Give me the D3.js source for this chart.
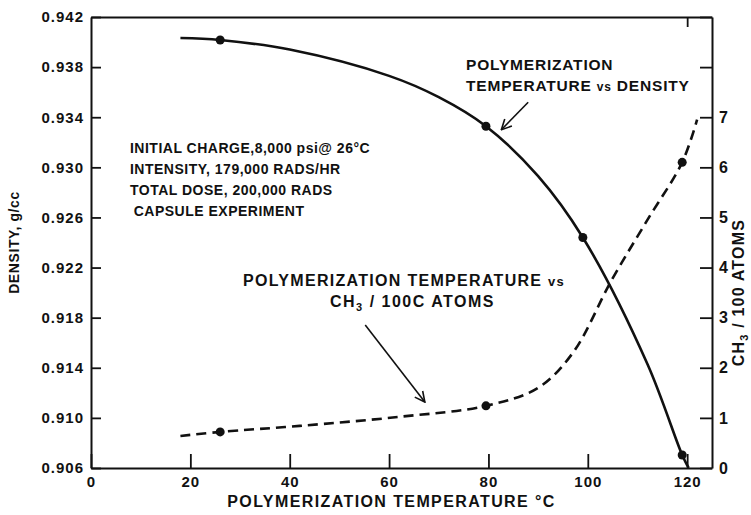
<!DOCTYPE html>
<html>
<head>
<meta charset="utf-8">
<script src="https://cdn.jsdelivr.net/npm/d3@7"></script>
<style>
  html, body { margin: 0; padding: 0; background: #fff; }
  svg { display: block; }
  text { font-family: "Liberation Sans", Arial, sans-serif; font-weight: bold; fill: #111; }
</style>
</head>
<body>
<svg id="chart" width="751" height="515"></svg>
<script>
// Measured points: polymerization temperature (°C) vs density (g/cc)
const densityTemps = [26, 79.5, 99, 119];
const densityValues = [0.94016, 0.93328, 0.9244, 0.90704];
// Smooth fitted density curve
const densityCurveTemps = [18, 26, 40, 60, 70, 79.5, 90, 99, 112, 119, 120.3];
const densityCurveValues = [0.94032, 0.94016, 0.9394, 0.9373, 0.9356, 0.93328, 0.9293, 0.9244, 0.9143, 0.90704, 0.906];

// Measured points: polymerization temperature (°C) vs CH3 per 100 C atoms
const methylTemps = [26, 79.5, 119];
const methylValues = [0.72, 1.24, 6.1];
// Smooth fitted CH3 curve
const methylCurveTemps = [18, 26, 42, 62, 79.5, 90, 97, 104.8, 112, 119, 122];
const methylCurveValues = [0.64, 0.72, 0.84, 1.02, 1.24, 1.6, 2.3, 3.75, 4.95, 6.1, 6.95];

// Axis ticks
const xTicks = [0, 20, 40, 60, 80, 100, 120];
const densityTicks = [0.906, 0.910, 0.914, 0.918, 0.922, 0.926, 0.930, 0.934, 0.938, 0.942];
const methylTicks = [0, 1, 2, 3, 4, 5, 6, 7, 8, 9];
const methylTickLabels = ["0", "1", "2", "3", "4", "5", "6", "7", "", ""];

const svg = d3.select("#chart");
const plotLeft = 91, plotRight = 712, plotTop = 17, plotBottom = 468;

const x = d3.scaleLinear().domain([0, 125]).range([plotLeft, plotRight]);
const yL = d3.scaleLinear().domain([0.906, 0.942]).range([plotBottom, plotTop]);
const yR = d3.scaleLinear().domain([0, 9]).range([plotBottom, plotTop]);

const axisStyle = g => {
  g.selectAll("path.domain").attr("stroke", "#111").attr("stroke-width", 2);
  g.selectAll(".tick line").attr("stroke", "#111").attr("stroke-width", 1.8);
  g.selectAll(".tick text").attr("fill", "#111").style("font-size", "15px")
    .style("font-family", "'Liberation Sans', Arial, sans-serif").style("font-weight", "bold")
    .style("letter-spacing", "1px");
};

// Bottom axis
svg.append("g").attr("transform", `translate(0,${plotBottom})`)
  .call(d3.axisBottom(x).tickValues(xTicks).tickSizeInner(-14).tickSizeOuter(0).tickPadding(8).tickFormat(d3.format("d")))
  .call(axisStyle);

// Left axis (density)
svg.append("g").attr("transform", `translate(${plotLeft},0)`)
  .call(d3.axisLeft(yL).tickValues(densityTicks).tickSizeInner(-10).tickSizeOuter(0).tickPadding(7).tickFormat(d3.format(".3f")))
  .call(axisStyle);

// Right axis (CH3 / 100 atoms)
svg.append("g").attr("transform", `translate(${plotRight},0)`)
  .call(d3.axisRight(yR).tickValues(methylTicks).tickSizeInner(-12).tickSizeOuter(0).tickPadding(7)
    .tickFormat((d, i) => methylTickLabels[i]))
  .call(axisStyle)
  .call(g => g.selectAll(".tick text").style("font-size", "16px"));

// Top frame
svg.append("g").attr("transform", `translate(0,${plotTop})`)
  .call(d3.axisTop(x).tickValues([120]).tickSizeInner(-10).tickSizeOuter(0).tickFormat(""))
  .call(axisStyle);

// Density curve (solid)
const densityLine = d3.line().x(d => x(d[0])).y(d => yL(d[1])).curve(d3.curveCatmullRom.alpha(0.5));
svg.append("path")
  .datum(densityCurveTemps.map((t, i) => [t, densityCurveValues[i]]))
  .attr("d", densityLine).attr("fill", "none").attr("stroke", "#111").attr("stroke-width", 2.6);

// CH3 curve (dashed)
const methylLine = d3.line().x(d => x(d[0])).y(d => yR(d[1])).curve(d3.curveCatmullRom.alpha(0.5));
svg.append("path")
  .datum(methylCurveTemps.map((t, i) => [t, methylCurveValues[i]]))
  .attr("d", methylLine).attr("fill", "none").attr("stroke", "#111").attr("stroke-width", 2.6)
  .attr("stroke-dasharray", "10,6");

// Data points
svg.append("g").selectAll("circle").data(densityTemps).join("circle")
  .attr("cx", d => x(d)).attr("cy", (d, i) => yL(densityValues[i])).attr("r", 4.5).attr("fill", "#111");
svg.append("g").selectAll("circle").data(methylTemps).join("circle")
  .attr("cx", d => x(d)).attr("cy", (d, i) => yR(methylValues[i])).attr("r", 4.5).attr("fill", "#111");

// Arrowhead
svg.append("defs").append("marker")
  .attr("id", "arrow").attr("viewBox", "0 0 12 12").attr("refX", 11).attr("refY", 6)
  .attr("markerWidth", 12).attr("markerHeight", 12).attr("markerUnits", "userSpaceOnUse")
  .attr("orient", "auto")
  .append("path").attr("d", "M1,1 L11,6 L1,11").attr("fill", "none").attr("stroke", "#111").attr("stroke-width", 1.6);

const arrow = (t0, v0, t1, v1) => svg.append("line")
  .attr("x1", x(t0)).attr("y1", yL(v0)).attr("x2", x(t1)).attr("y2", yL(v1))
  .attr("stroke", "#111").attr("stroke-width", 1.6).attr("marker-end", "url(#arrow)");
arrow(88, 0.9352, 82.6, 0.9330);
arrow(55.2, 0.91741, 67.2, 0.91127);

// Annotations
const note = (t, v, lines, dy, size, spacing) => {
  const txt = svg.append("text").attr("x", x(t)).attr("y", yL(v))
    .style("font-size", size + "px").style("letter-spacing", spacing + "px");
  lines.forEach((s, i) => txt.append("tspan").attr("x", x(t)).attr("dy", i ? dy : 0).text(s));
  return txt;
};
note(7.85, 0.93114, ["INITIAL CHARGE,8,000 psi@ 26°C", "INTENSITY, 179,000  RADS/HR", "TOTAL DOSE, 200,000 RADS"], 21, 14, 0.5);
note(8.6, 0.92612, ["CAPSULE EXPERIMENT"], 0, 14, 0.5);

const dens = svg.append("text").attr("x", x(75.5)).attr("y", yL(0.93777))
  .style("font-size", "15.5px").style("letter-spacing", "0.8px");
dens.append("tspan").attr("x", x(75.5)).text("POLYMERIZATION");
const dens2 = svg.append("text").attr("x", x(75.5)).attr("y", yL(0.93777) + 21)
  .style("font-size", "15.5px").style("letter-spacing", "0.8px");
dens2.append("tspan").text("TEMPERATURE ");
dens2.append("tspan").style("font-size", "12px").text("vs");
dens2.append("tspan").text(" DENSITY");

const ch3 = svg.append("text").attr("x", x(30.6)).attr("y", yL(0.92053))
  .style("font-size", "16px").style("letter-spacing", "1.3px");
ch3.append("tspan").text("POLYMERIZATION TEMPERATURE ");
ch3.append("tspan").style("font-size", "13px").text("vs");
const l2 = svg.append("text").attr("x", x(48.1)).attr("y", yL(0.92053) + 21)
  .style("font-size", "16px").style("letter-spacing", "1.5px");
l2.append("tspan").text("CH");
l2.append("tspan").attr("dy", 4).style("font-size", "11px").text("3");
l2.append("tspan").attr("dy", -4).text(" / 100C ATOMS");

// Axis titles
svg.append("text").attr("x", (plotLeft + plotRight) / 2 - 10).attr("y", 507).attr("text-anchor", "middle")
  .style("font-size", "16px").style("letter-spacing", "1.4px").text("POLYMERIZATION TEMPERATURE °C");

svg.append("text").attr("transform", `translate(19,${yL(0.924)}) rotate(-90)`).attr("text-anchor", "middle")
  .style("font-size", "14px").style("letter-spacing", "0.6px").text("DENSITY, g/cc");

const rt = svg.append("text").attr("transform", `translate(744,${yR(3.5)}) rotate(-90)`).attr("text-anchor", "middle")
  .style("font-size", "16px").style("letter-spacing", "1.2px");
rt.append("tspan").text("CH");
rt.append("tspan").attr("dy", 4).style("font-size", "11px").text("3");
rt.append("tspan").attr("dy", -4).text(" / 100 ATOMS");
</script>
</body>
</html>
